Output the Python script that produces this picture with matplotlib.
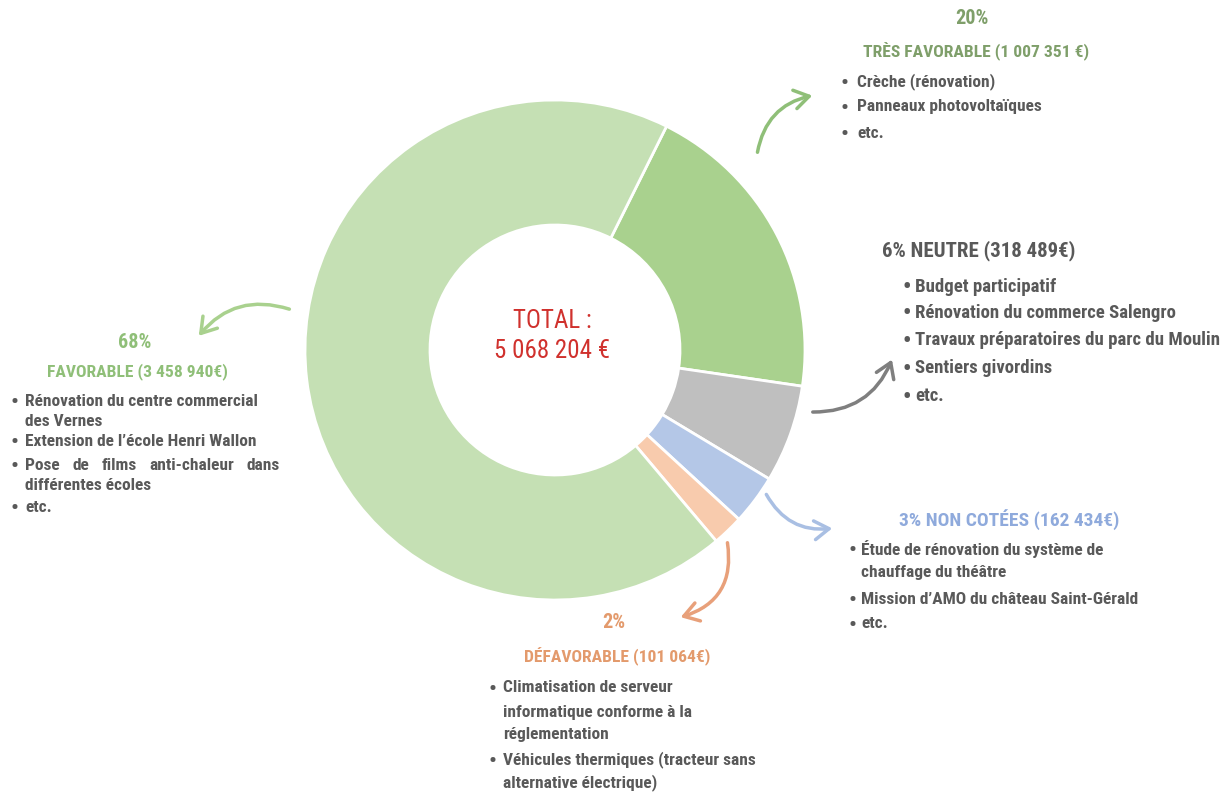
import matplotlib
matplotlib.use("Agg")
import matplotlib.pyplot as plt
from matplotlib.patches import FancyArrowPatch
from matplotlib import font_manager

# ---- data ----
categories = ["Très favorable", "Neutre", "Non cotées", "Défavorable", "Favorable"]
amounts = [1007351, 318489, 162434, 101064, 3458940]
percent_labels = ["20%", "6%", "3%", "2%", "68%"]
colors = ["#a9d18e", "#bfbfbf", "#b4c7e7", "#f8cbad", "#c5e0b4"]
total_label = "TOTAL :\n5 068 204 €"

header_tres = "TRÈS FAVORABLE (1 007 351 €)"
header_neutre = "6% NEUTRE (318 489€)"
header_fav = "FAVORABLE (3 458 940€)"
header_nc = "3% NON COTÉES (162 434€)"
header_def = "DÉFAVORABLE (101 064€)"

items_tres = ["Crèche (rénovation)", "Panneaux photovoltaïques", "etc."]
items_neutre = ["Budget participatif", "Rénovation du commerce Salengro",
                "Travaux préparatoires du parc du Moulin", "Sentiers givordins", "etc."]
items_fav = [["Rénovation du centre commercial", "des Vernes"],
             ["Extension de l’école Henri Wallon"],
             ["Pose de films anti-chaleur dans", "différentes écoles"],
             ["etc."]]
items_nc = [["Étude de rénovation du système de", "chauffage du théâtre"],
            ["Mission d’AMO du château Saint-Gérald"], ["etc."]]
items_def = [["Climatisation de serveur", "informatique conforme à la", "réglementation"],
             ["Véhicules thermiques (tracteur sans", "alternative électrique)"]]

# ---- font selection ----
entries = font_manager.fontManager.ttflist
names = {f.name for f in entries}
FONT = ["DejaVu Sans"]
STRETCH = "normal"
SCALE = 0.86
for cand in ["Liberation Sans Narrow", "Roboto Condensed", "Open Sans Condensed"]:
    if cand in names:
        FONT = [cand, "DejaVu Sans"]
        SCALE = 1.0
        break
else:
    if any("DejaVuSansCondensed" in f.fname for f in entries):
        STRETCH = "condensed"
        SCALE = 0.95

W, H = 1231, 792
fig = plt.figure(figsize=(W / 100, H / 100), dpi=100)
ax = fig.add_axes([0, 0, 1, 1])

def Y(y):
    return H - y

ax.pie(amounts, colors=colors, startangle=63.5, counterclock=False,
       center=(555, Y(350)), radius=250,
       wedgeprops=dict(width=125, edgecolor="white", linewidth=2))
ax.set_xlim(0, W)
ax.set_ylim(0, H)
ax.set_aspect("equal")
ax.axis("off")

ax.text(552, Y(336), total_label, ha="center", va="center", color="#d0312d",
        fontsize=18 * SCALE, family=FONT, stretch=STRETCH, linespacing=1.3)

def head_kw(size=12.6):
    return dict(fontsize=size * SCALE, fontweight="bold", family=FONT, stretch=STRETCH)

pct_kw = dict(fontsize=14.5 * SCALE, fontweight="bold", family=FONT, stretch=STRETCH)

def item_kw(size):
    return dict(fontsize=size * SCALE, fontweight="bold", family=FONT, stretch=STRETCH,
                color="#595959", va="center")

def bullets(x_b, x_t, ys, lines, size=12.5, justify=None):
    kw = item_kw(size)
    for y, line in zip(ys, lines):
        if line[0]:
            ax.text(x_b, Y(y) - 1, "•", ha="left",
                    **dict(kw, fontsize=kw["fontsize"] * 1.25))
        if justify is not None and line[1] in justify[0]:
            justify_line(x_t, justify[1], Y(y), line[1], kw)
        else:
            ax.text(x_t, Y(y), line[1], ha="left", **kw)

def justify_line(x0, x1, y, s, kw):
    words = s.split()
    fig.canvas.draw()
    r = fig.canvas.get_renderer()
    widths = []
    for w in words:
        t = ax.text(0, 0, w, **kw)
        widths.append(t.get_window_extent(r).width)
        t.remove()
    gap = ((x1 - x0) - sum(widths)) / (len(words) - 1)
    x = x0
    for w, wd in zip(words, widths):
        ax.text(x, y, w, ha="left", **kw)
        x += wd + gap

def flatten(groups):
    out = []
    for grp in groups:
        for i, s in enumerate(grp):
            out.append((i == 0, s))
    return out

# Très favorable
c_tf = "#7f9f6a"
ax.text(972, Y(19), percent_labels[0], ha="center", va="center", color=c_tf, **pct_kw)
ax.text(976, Y(52), header_tres, ha="center", va="center", color=c_tf, **head_kw())
bullets(840, 857, [82, 107, 133], [(True, s) for s in items_tres])

# Neutre
ax.text(882, Y(251), header_neutre, ha="left", va="center", color="#595959", **head_kw(15))
bullets(902, 915, [287, 313, 340, 368, 396], [(True, s) for s in items_neutre], size=13.5)

# Favorable
c_f = "#8fbf78"
ax.text(135, Y(343), percent_labels[4], ha="center", va="center", color=c_f, **pct_kw)
ax.text(137, Y(372), header_fav, ha="center", va="center", color=c_f, **head_kw())
bullets(10, 25, [401, 421, 441, 465, 486, 507], flatten(items_fav),
        justify=(["Pose de films anti-chaleur dans"], 280))

# Non cotées
c_nc = "#8faadc"
ax.text(1009, Y(520), header_nc, ha="center", va="center", color=c_nc, **head_kw(14))
bullets(848, 861, [549, 573, 599, 624], flatten(items_nc))

# Défavorable
c_d = "#e39a6c"
ax.text(614, Y(622), percent_labels[3], ha="center", va="center", color=c_d, **pct_kw)
ax.text(617, Y(657), header_def, ha="center", va="center", color=c_d, **head_kw())
bullets(489, 503, [688, 712, 735, 760, 783], flatten(items_def))

def arrow(p0, p1, rad, color):
    a = FancyArrowPatch((p0[0], Y(p0[1])), (p1[0], Y(p1[1])),
                        connectionstyle=f"arc3,rad={rad}",
                        arrowstyle="->,head_length=7,head_width=4.5",
                        color=color, lw=2.5, mutation_scale=1.5,
                        capstyle="round", joinstyle="round")
    ax.add_patch(a)

arrow((757, 155), (815, 95), -0.35, "#8fbf78")
arrow((810, 412), (893, 357), 0.35, "#7f7f7f")
arrow((292, 310), (197, 338), 0.35, "#a9d18e")
arrow((765, 492), (835, 528), 0.35, "#a9bfe3")
arrow((727, 540), (678, 618), -0.45, "#e8a07a")

fig.savefig("out.png", dpi=100, facecolor="white")
